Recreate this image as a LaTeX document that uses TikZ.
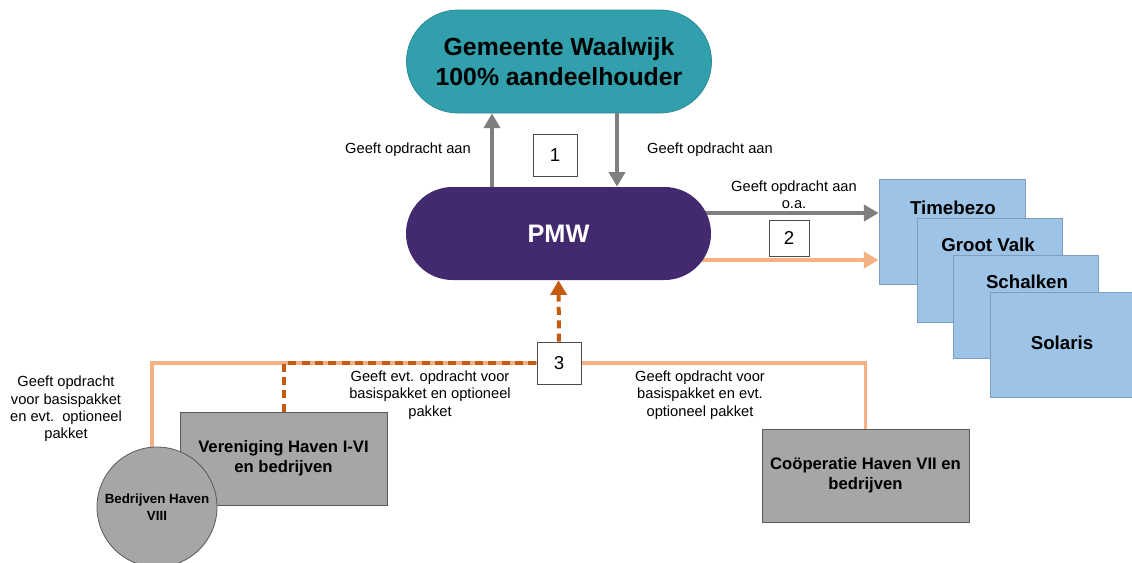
\documentclass[tikz,border=0pt]{standalone}
\usepackage{fontspec}
\setmainfont{Liberation Sans}
\usetikzlibrary{shapes.misc,shapes.geometric,arrows.meta,backgrounds}
\definecolor{tealc}{HTML}{31A0AC}
\definecolor{tealb}{HTML}{2A8C97}
\definecolor{purp}{HTML}{43296E}
\definecolor{garr}{HTML}{7F7F7F}
\definecolor{lor}{HTML}{F4B183}
\definecolor{dor}{HTML}{C55A11}
\definecolor{bluec}{HTML}{9DC3E6}
\definecolor{blueb}{HTML}{7F9EBF}
\definecolor{grayc}{HTML}{A6A6A6}
\definecolor{grayb}{HTML}{595959}
\begin{document}
\begin{tikzpicture}[x=0.75pt,y=-0.75pt,
  stad/.style={rounded rectangle, inner sep=0pt, align=center},
  numbox/.style={draw=black!70, fill=white, line width=0.6pt, inner sep=0pt, font=\fontsize{14}{16}\selectfont},
  lbl/.style={align=center, font=\fontsize{11}{13}\selectfont, inner sep=0pt},
  bluebox/.style={draw=blueb, fill=bluec, line width=0.6pt, inner sep=0pt},
  btxt/.style={font=\bfseries\fontsize{14}{16}\selectfont, inner sep=0pt},
  graybox/.style={draw=grayb, fill=grayc, line width=0.6pt, inner sep=0pt, align=center, font=\bfseries\fontsize{12.5}{15}\selectfont},
  garrow/.style={draw=garr, line width=3pt, -{Triangle[width=12pt,length=11pt]}},
  oarrow/.style={draw=lor, line width=3pt, -{Triangle[width=12pt,length=11pt]}},
  oline/.style={draw=lor, line width=2.6pt},
  dline/.style={draw=dor, line width=3pt, dash pattern=on 6pt off 4pt}
]
\useasboundingbox (0,0) rectangle (1132,562);
% main nodes
\node[stad, fill=tealc, draw=tealb, line width=0.6pt, minimum width=228.75pt, minimum height=77.25pt, font=\bfseries\fontsize{18.6}{22.5}\selectfont] (gem) at (559,61.5) {Gemeente Waalwijk\\100\% aandeelhouder};
\node[stad, fill=purp, minimum width=228.75pt, minimum height=69.75pt, text=white, font=\bfseries\fontsize{19}{22}\selectfont] (pmw) at (558.5,233.5) {PMW};
% number boxes
\node[numbox, minimum width=33pt, minimum height=31.5pt] (b1) at (555,155) {1};
\node[numbox, minimum width=30pt, minimum height=27pt] (b2) at (789,238) {2};
\node[numbox, minimum width=33pt, minimum height=31.5pt] (b3) at (559,363) {3};
% blue boxes
\node[bluebox, minimum width=109.5pt, minimum height=78.75pt] (tim) at (952,232) {};
\node[btxt] (timt) at (953,208) {Timebezo};
\node[bluebox, minimum width=108.75pt, minimum height=78pt] (gv) at (989.5,270) {};
\node[btxt] (gvt) at (988,245) {Groot Valk};
\node[bluebox, minimum width=108.75pt, minimum height=77.25pt] (sch) at (1026,306.5) {};
\node[btxt] (scht) at (1027,282) {Schalken};
\node[bluebox, minimum width=106.5pt, minimum height=78.75pt] (sol) at (1061,344.5) {};
\node[btxt] (solt) at (1062,343) {Solaris};
% gray boxes
\node[graybox, minimum width=155.25pt, minimum height=69.75pt] (ver) at (283.5,458.5) {Vereniging Haven I-VI\\en bedrijven};
\node[graybox, circle, minimum size=90pt, font=\bfseries\fontsize{10}{12.75}\selectfont] (circ) at (157,507) {Bedrijven Haven\\VIII};
\node[graybox, minimum width=155.25pt, minimum height=69.75pt] (coop) at (865.5,475.5) {Coöperatie Haven VII en\\bedrijven};
% coordinates
\coordinate (u1) at (492,0);
\coordinate (d1) at (617,0);
\coordinate (r1) at (0,213);
\coordinate (r2) at (0,260);
\coordinate (c1) at (152,0);
% connectors
\draw[garrow] (u1 |- pmw.north) -- (u1 |- gem.south);
\draw[garrow] (d1 |- gem.south) -- (d1 |- pmw.north);
\begin{scope}[on background layer]
\draw[garrow] (pmw.center |- r1) -- (tim.west |- r1);
\draw[oarrow] (pmw.center |- r2) -- (tim.west |- r2);
\draw[oline] (c1 |- circ.center) -- (c1 |- b3.center) -| (coop.north);
\draw[dline] (ver.north) |- (b3.center);
\end{scope}
\draw[dline, -{Triangle[width=12pt,length=11pt]}] (b3.north) -- (pmw.south);
% labels
\node[lbl] (l1) at (408,150) {Geeft opdracht aan};
\node[lbl] (l2) at (710,150) {Geeft opdracht aan};
\node[lbl] (l3) at (794,195) {Geeft opdracht aan\\o.a.};
\node[lbl] (l4) at (66,409) {Geeft opdracht\\voor basispakket\\en evt.\ \ optioneel\\pakket};
\node[lbl] (l5) at (430,395) {Geeft evt. opdracht voor\\basispakket en optioneel\\pakket};
\node[lbl] (l6) at (700,395) {Geeft opdracht voor\\basispakket en evt.\\optioneel pakket};
\end{tikzpicture}
\end{document}
